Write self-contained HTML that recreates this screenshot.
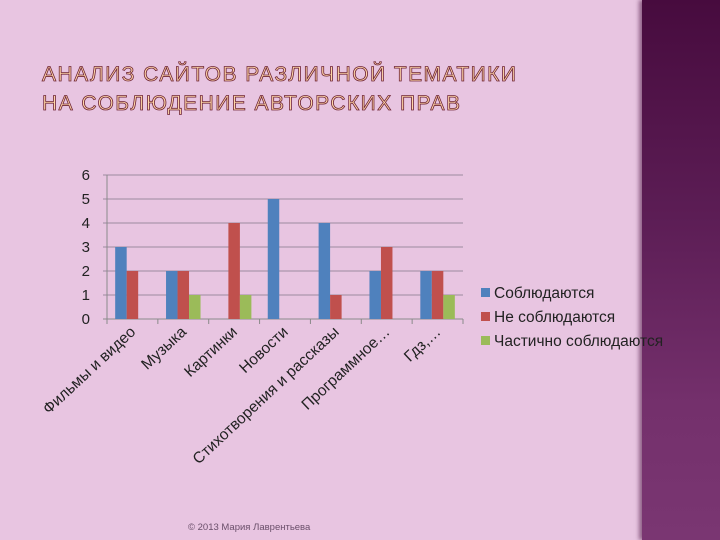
<!DOCTYPE html>
<html><head><meta charset="utf-8"><style>
body{margin:0;width:720px;height:540px;overflow:hidden;background:#e8c5e1;font-family:"Liberation Sans","DejaVu Sans",sans-serif;position:relative}
#side{position:absolute;left:642px;top:0;width:78px;height:540px;background:linear-gradient(#470b3e,#5c1d55 40%,#74306c 75%,#7a3672);box-shadow:-3px 0 4px rgba(60,0,50,.5)}
.t{position:absolute;left:42px;font-family:"Liberation Sans",sans-serif;font-size:21px;letter-spacing:1.45px;color:#ffd6a8;-webkit-text-stroke:0.8px #6e2436;font-weight:normal;white-space:nowrap}
#foot{position:absolute;left:188px;top:522px;font-size:9.5px;color:#6a4f6a}
</style></head><body>
<div id="side"></div>
<div class="t" style="top:63px">АНАЛИЗ САЙТОВ РАЗЛИЧНОЙ ТЕМАТИКИ</div>
<div class="t" style="top:92px">НА СОБЛЮДЕНИЕ АВТОРСКИХ ПРАВ</div>
<svg id="chart" width="720" height="540" style="position:absolute;left:0;top:0"></svg>
<div id="foot">© 2013 Мария Лаврентьева</div>
<script>
const categories=["Фильмы и видео","Музыка","Картинки","Новости","Стихотворения и рассказы","Программное…","Гдз,…"];
const seriesNames=["Соблюдаются","Не соблюдаются","Частично соблюдаются"];
const s1=[3,2,0,5,4,2,2];
const s2=[2,2,4,0,1,3,2];
const s3=[0,1,1,0,0,0,1];
const yTicks=[0,1,2,3,4,5,6];
const colors=["#4f81bd","#c0504d","#9bbb59"];
const svg=document.getElementById('chart');const NS="http://www.w3.org/2000/svg";
const X0=107,X1=463,Y0=319,Y1=175,YMAX=6;
const y=v=>Y0-(v/YMAX)*(Y0-Y1);
const cw=(X1-X0)/categories.length;
const x=i=>X0+i*cw;
function mk(t,a){const e=document.createElementNS(NS,t);for(const k in a)e.setAttribute(k,a[k]);svg.appendChild(e);return e;}
yTicks.forEach(v=>{
 const l=mk('line',{x1:X0-4,x2:X1,y1:y(v),y2:y(v),stroke:v?'#9c8aa0':'#8a8a8a','stroke-width':1});
 
 
 const t=mk('text',{x:90,y:y(v)+5,'text-anchor':'end','font-size':15,fill:'#222'});t.textContent=v;
 
 
});
const ax=mk('line',{x1:X0,x2:X0,y1:Y1,y2:Y0,stroke:'#8a8a8a'});


const bw=11.5;
[s1,s2,s3].forEach((s,j)=>s.forEach((v,i)=>{
 if(!v)return;
 const cx=x(i)+cw/2;
 const r=mk('rect',{x:cx-1.5*bw+j*bw,y:y(v),width:bw,height:Y0-y(v),fill:colors[j]});
 
 
}));
categories.forEach((c,i)=>{
 const tk=mk('line',{x1:x(i),x2:x(i),y1:Y0,y2:Y0+5,stroke:'#8a8a8a'});
 
 
 const cx=x(i)+cw/2+4,cy=Y0+14;
 const t=mk('text',{x:cx,y:cy,'text-anchor':'end','font-size':15.5,fill:'#222',transform:`rotate(-43 ${cx} ${cy})`});t.textContent=c;
 
 
});
const tk=mk('line',{x1:X1,x2:X1,y1:Y0,y2:Y0+5,stroke:'#8a8a8a'});
seriesNames.forEach((n,j)=>{
 const yy=293+j*24;
 const r=mk('rect',{x:481,y:yy-5,width:9,height:9,fill:colors[j]});
 
 
 const t=mk('text',{x:494,y:yy+5,'font-size':15.5,fill:'#222'});t.textContent=n;
 
 
});
</script>
</body></html>
